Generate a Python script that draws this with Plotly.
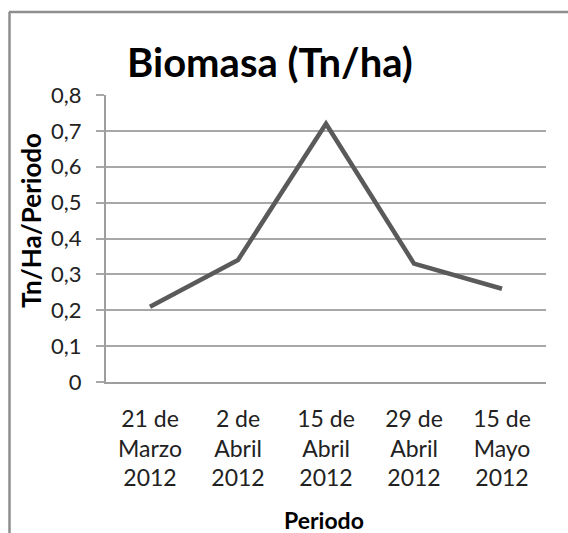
import plotly.graph_objects as go

# ---- data ----
categories = ["21 de\nMarzo\n2012", "2 de\nAbril\n2012", "15 de\nAbril\n2012",
              "29 de\nAbril\n2012", "15 de\nMayo\n2012"]
biomasa = [0.21, 0.34, 0.72, 0.33, 0.26]
y_ticks = [0, 0.1, 0.2, 0.3, 0.4, 0.5, 0.6, 0.7, 0.8]
y_tick_labels = ["0", "0,1", "0,2", "0,3", "0,4", "0,5", "0,6", "0,7", "0,8"]
title_text = "Biomasa (Tn/ha)"
x_title = "Periodo"
y_title = "Tn/Ha/Periodo"

W, H = 568, 533
# plot area in window pixels: x 106..546, y 95..382
L, T = 106, 95
R = W - 546
B = H - 382
pw, ph = W - L - R, H - T - B

def px_x(p):  # window pixel -> paper
    return (p - L) / pw

def px_y(p):
    return (T + ph - p) / ph

FONT = "Lato"
idx = list(range(len(categories)))

fig = go.Figure()
fig.add_trace(go.Scatter(
    x=idx, y=biomasa, mode="lines",
    line=dict(color="#5a5a5a", width=4.5),
    hoverinfo="skip", showlegend=False,
))

fig.update_layout(
    width=W, height=H,
    margin=dict(l=L, r=R, t=T, b=B, pad=0),
    paper_bgcolor="white", plot_bgcolor="white",
    font=dict(family=FONT, color="#222222"),
    showlegend=False,
    xaxis=dict(
        range=[-0.5, len(categories) - 0.5],
        tickvals=idx,
        ticktext=[c.replace("\n", "<br>") for c in categories],
        showgrid=False, zeroline=False,
        showline=True, linecolor="#9e9e9e", linewidth=2,
        ticks="", tickfont=dict(size=23, family=FONT, color="#222222"),
        ticklabelstandoff=15,
    ),
    yaxis=dict(
        range=[0, 0.8],
        tickvals=y_ticks, ticktext=y_tick_labels,
        showgrid=True, gridcolor="#a8a8a8", gridwidth=1.5,
        zeroline=False,
        showline=True, linecolor="#9e9e9e", linewidth=2,
        ticks="outside", ticklen=8, tickcolor="#a8a8a8", tickwidth=1.5,
        tickfont=dict(size=22, family=FONT, color="#222222"),
        ticklabelstandoff=10,
    ),
    annotations=[
        dict(text="<b>" + title_text + "</b>", x=px_x(270), y=px_y(62),
             xref="paper", yref="paper", showarrow=False,
             xanchor="center", yanchor="middle",
             font=dict(size=40, family=FONT, color="#000000")),
        dict(text="<b>" + x_title + "</b>", x=px_x(324), y=px_y(520),
             xref="paper", yref="paper", showarrow=False,
             xanchor="center", yanchor="middle",
             font=dict(size=23, family=FONT, color="#000000")),
        dict(text="<b>" + y_title + "</b>", x=px_x(31), y=px_y(221),
             xref="paper", yref="paper", showarrow=False, textangle=-90,
             xanchor="center", yanchor="middle",
             font=dict(size=26, family=FONT, color="#000000")),
    ],
    shapes=[
        dict(type="line", xref="paper", yref="paper",
             x0=px_x(9), x1=px_x(W + 2), y0=px_y(12), y1=px_y(12),
             line=dict(color="#8e8e8e", width=2.5)),
        dict(type="line", xref="paper", yref="paper",
             x0=px_x(9.5), x1=px_x(9.5), y0=px_y(12), y1=px_y(H + 2),
             line=dict(color="#8e8e8e", width=2.5)),
    ],
)

fig.write_html(
    "out.html",
    config={"displayModeBar": False},
    post_script="document.body.style.margin='0';document.body.style.overflow='hidden';",
)
